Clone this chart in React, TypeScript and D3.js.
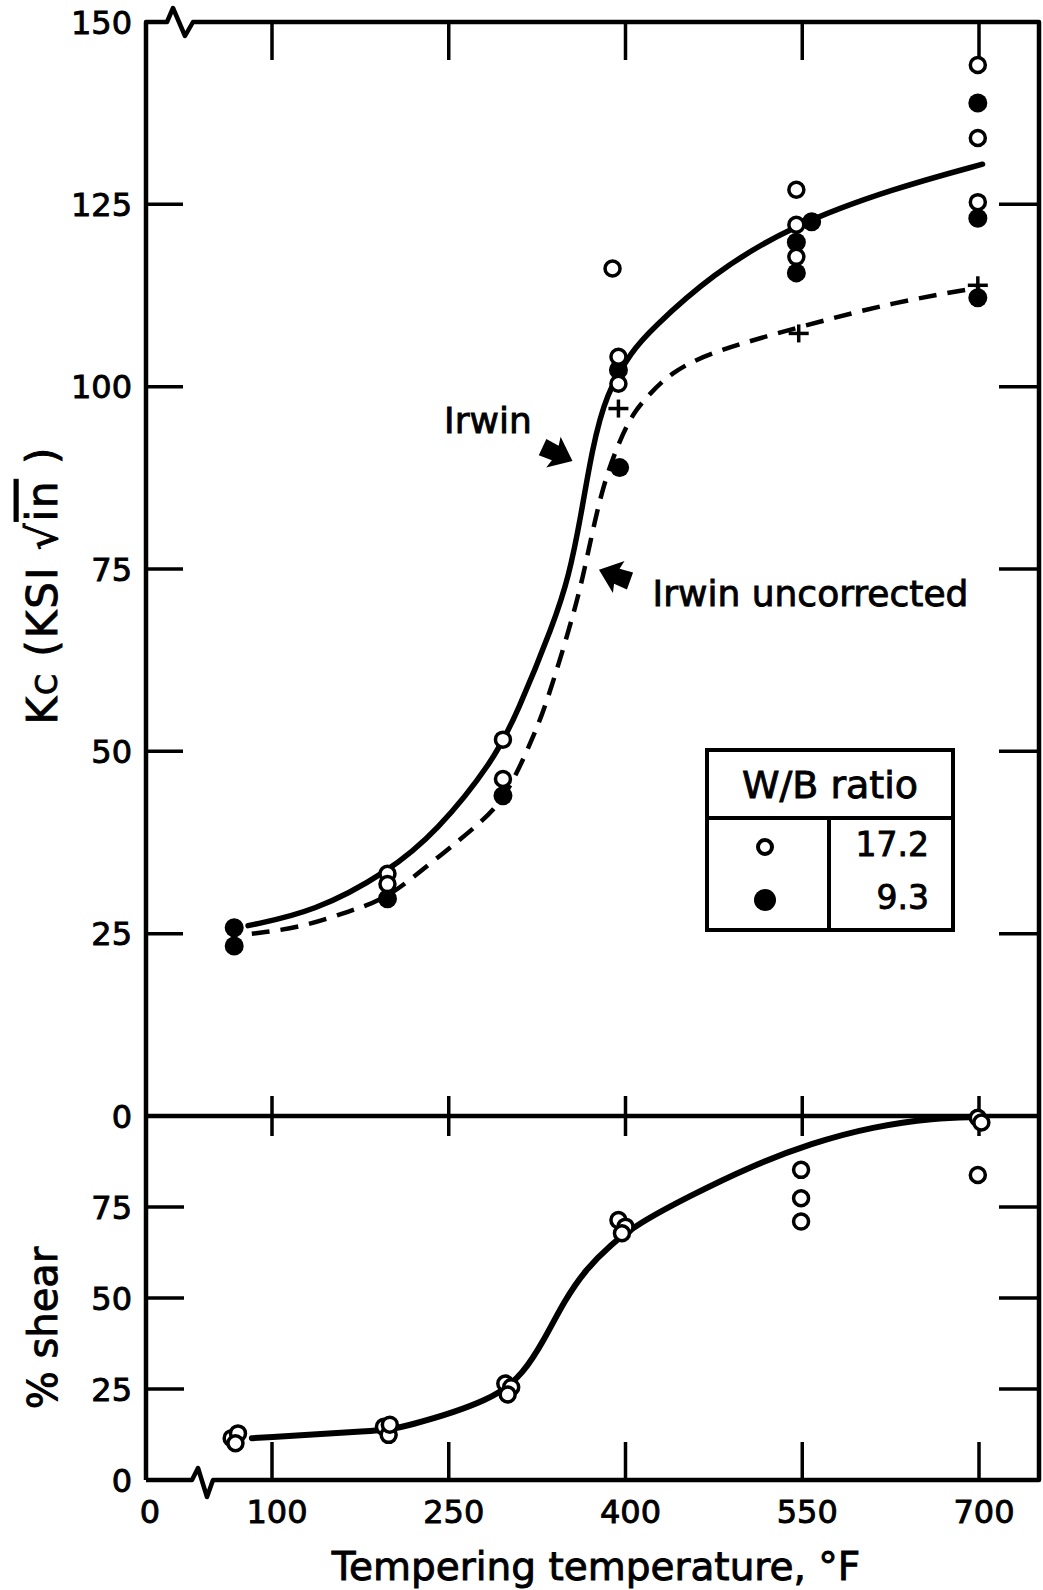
import React from 'react'
import * as d3 from 'd3'

// tick values
const xTicks = [0, 100, 250, 400, 550, 700]
const kcTicks = [0, 25, 50, 75, 100, 125, 150]
const shearTicks = [0, 25, 50, 75]

// Kc points, W/B ratio 17.2 (open circles)
const kcOpen: [number, number][] = [
  [198, 33.2], [198, 31.8], [296, 51.6], [296, 46.2],
  [389, 116.2], [394, 104.1], [394, 100.4],
  [545, 127.0], [545, 122.2], [545, 117.8],
  [699, 144.1], [699, 134.1], [699, 125.3],
]
// Kc points, W/B ratio 9.3 (filled circles)
const kcFilled: [number, number][] = [
  [70, 25.8], [70, 23.3], [198, 29.8], [296, 43.9],
  [394, 102.3], [395, 88.9],
  [545, 119.8], [545, 115.6], [558, 122.6],
  [699, 138.9], [699, 123.1], [699, 112.2],
]
// Irwin uncorrected values (+)
const kcPlus: [number, number][] = [[394, 97.0], [547, 107.3], [699, 113.9]]

// fitted curves
const irwinCurve: [number, number][] = [
  [81, 26.1], [136, 28], [198, 33.4], [240, 39], [288, 48.7], [308, 55.2],
  [339, 67.5], [352, 74], [362, 82.1], [371.5, 91.3], [383.5, 99.1],
  [406, 105], [421, 107.7], [473, 115.4], [541, 122.1], [628, 127.2], [703, 130.5],
]
const uncorrectedCurve: [number, number][] = [
  [84, 25], [124, 25.8], [166, 28.1], [198, 29.8], [237, 35], [280, 40.5],
  [300, 44.2], [321, 51.7], [333, 56.5], [359, 70.3], [368.5, 77.5], [381, 86.7],
  [396, 93], [407, 96.5], [421, 99.1], [438, 101.8], [469, 104.6], [550, 108.3],
  [628, 111.6], [701, 113.6],
]

// % shear points (W/B 17.2)
const shearOpen: [number, number][] = [
  [68, 11.5], [73, 12.8], [71, 10.1],
  [195, 14.6], [199, 12.4], [200, 15.2],
  [298, 26.5], [303, 25.5], [300, 23.5],
  [394, 71.4], [400, 69.6], [397, 67.8],
  [549, 85.2], [549, 77.4], [549, 71.0],
  [699, 99.5], [702, 98.2], [699, 83.8],
]
const shearCurve: [number, number][] = [
  [84, 11.5], [190, 13.5], [211, 14.3], [289, 22], [313.6, 29.4], [331, 38.5],
  [348.5, 49.5], [366, 57.7], [387, 64.6], [411.5, 70.6], [453, 77.8],
  [505.6, 86.1], [558, 92.6], [610, 97.1], [662.5, 99.5], [697.5, 99.7],
]

const FONT = 'DejaVu Sans'
const txt = { fontFamily: FONT, stroke: '#000', strokeWidth: 0.9 }

const arrowPath = (x: number, y: number, angle: number) => {
  // fat arrow, tip at (x,y) pointing along angle
  const pts = [
    [0, 0], [-21, -17], [-19, -8], [-33, -9], [-33, 9], [-19, 8], [-21, 17],
  ]
  const a = (angle * Math.PI) / 180
  const c = Math.cos(a), s = Math.sin(a)
  return 'M' + pts.map(([px, py]) => `${x + px * c - py * s},${y + px * s + py * c}`).join('L') + 'Z'
}

export default function App() {
  const W = 1043
  const H = 1590
  const left = 146, right = 1039, top = 22, mid = 1116, bottom = 1480

  const x = d3.scaleLinear().domain([0, 100, 700]).range([left, 272, 979])
  const yK = d3.scaleLinear().domain([0, 150]).range([mid, top])
  const yS = d3.scaleLinear().domain([0, 100]).range([bottom, mid])

  const kLine = d3.line<[number, number]>().x((d) => x(d[0])).y((d) => yK(d[1])).curve(d3.curveBasis)
  const sLine = d3.line<[number, number]>().x((d) => x(d[0])).y((d) => yS(d[1])).curve(d3.curveBasis)

  const ax = { stroke: '#000', strokeWidth: 4.5, fill: 'none', strokeLinejoin: 'round' as const }
  const tk = { stroke: '#000', strokeWidth: 3.5 }

  const plus = (d: [number, number], i: number) => (
    <g key={'p' + i} transform={`translate(${x(d[0])},${yK(d[1])})`}>
      <line x1={-10} x2={10} y1={0} y2={0} {...tk} />
      <line x1={0} x2={0} y1={-9} y2={9} {...tk} />
    </g>
  )

  return (
    <svg width={W} height={H} style={{ position: 'absolute', left: 0, top: 0, background: '#fff' }}>
      <rect width={W} height={H} fill="#fff" />
      {/* frame with axis breaks */}
      <path d={`M${left},${bottom}L${left},${top}L167,${top}L173,8L185,36L193,${top}L${right},${top}L${right},${bottom}L213,${bottom}L207,1497L198,1468L192,${bottom}L${left},${bottom}`} {...ax} />
      <line x1={left} x2={right} y1={mid} y2={mid} {...ax} />

      {/* x ticks */}
      {xTicks.filter((v) => v > 0).map((v) => (
        <g key={'xt' + v}>
          <line x1={x(v)} x2={x(v)} y1={top} y2={top + 38} {...tk} />
          <line x1={x(v)} x2={x(v)} y1={mid - 20} y2={mid + 20} {...tk} />
          <line x1={x(v)} x2={x(v)} y1={bottom} y2={bottom - 38} {...tk} />
        </g>
      ))}
      {xTicks.map((v) => (
        <text key={'xl' + v} x={x(v) + (v === 0 ? 4 : 5)} y={1523} textAnchor="middle" fontSize={32} {...txt}>
          {v}
        </text>
      ))}

      {/* Kc ticks */}
      {kcTicks.filter((v) => v > 0 && v < 150).map((v) => (
        <g key={'kt' + v}>
          <line x1={left} x2={left + 37} y1={yK(v)} y2={yK(v)} {...tk} />
          <line x1={right} x2={right - 40} y1={yK(v)} y2={yK(v)} {...tk} />
        </g>
      ))}
      {kcTicks.map((v) => (
        <text key={'kl' + v} x={132} y={yK(v)} dy="0.36em" textAnchor="end" fontSize={32} {...txt}>
          {v}
        </text>
      ))}

      {/* shear ticks */}
      {shearTicks.filter((v) => v > 0).map((v) => (
        <g key={'st' + v}>
          <line x1={left} x2={left + 38} y1={yS(v)} y2={yS(v)} {...tk} />
          <line x1={right} x2={right - 40} y1={yS(v)} y2={yS(v)} {...tk} />
        </g>
      ))}
      {shearTicks.map((v) => (
        <text key={'sl' + v} x={132} y={yS(v)} dy="0.36em" textAnchor="end" fontSize={32} {...txt}>
          {v}
        </text>
      ))}

      {/* curves */}
      <path d={kLine(irwinCurve) || ''} fill="none" stroke="#000" strokeWidth={5.5} strokeLinecap="round" />
      <path d={kLine(uncorrectedCurve) || ''} fill="none" stroke="#000" strokeWidth={4.5} strokeDasharray="18 11" />
      <path d={sLine(shearCurve) || ''} fill="none" stroke="#000" strokeWidth={6} strokeLinecap="round" />

      {/* points */}
      {kcPlus.map(plus)}
      {kcFilled.map((d, i) => (
        <circle key={'kf' + i} cx={x(d[0])} cy={yK(d[1])} r={9.5} fill="#000" />
      ))}
      {kcOpen.map((d, i) => (
        <circle key={'ko' + i} cx={x(d[0])} cy={yK(d[1])} r={7.5} fill="#fff" stroke="#000" strokeWidth={3.5} />
      ))}
      {shearOpen.map((d, i) => (
        <circle key={'so' + i} cx={x(d[0])} cy={yS(d[1])} r={7.5} fill="#fff" stroke="#000" strokeWidth={3.5} />
      ))}

      {/* annotations */}
      <text x={x(246)} y={yK(93.6)} fontSize={36} {...txt}>Irwin</text>
      <path d={arrowPath(x(355), yK(89.8), 25)} fill="#000" />
      <text x={x(423)} y={yK(69.9)} fontSize={36} {...txt}>Irwin uncorrected</text>
      <path d={arrowPath(x(377.5), yK(74.9), 200)} fill="#000" />

      {/* legend */}
      <g>
        <rect x={707} y={750} width={246} height={180} fill="#fff" stroke="#000" strokeWidth={4} />
        <line x1={707} x2={953} y1={818} y2={818} stroke="#000" strokeWidth={4} />
        <line x1={829} x2={829} y1={818} y2={930} stroke="#000" strokeWidth={4} />
        <text x={830} y={798} textAnchor="middle" fontSize={38} {...txt}>W/B ratio</text>
        <circle cx={765} cy={847} r={7} fill="#fff" stroke="#000" strokeWidth={4} />
        <circle cx={765} cy={900} r={11} fill="#000" />
        <text x={929} y={856} textAnchor="end" fontSize={33} {...txt}>17.2</text>
        <text x={929} y={909} textAnchor="end" fontSize={33} {...txt}>9.3</text>
      </g>

      {/* axis titles */}
      <text x={596} y={1580} textAnchor="middle" fontSize={39} {...txt}>
        Tempering temperature, °F
      </text>
      <text transform="translate(57,585) rotate(-90)" textAnchor="middle" fontSize={42} letterSpacing={2} {...txt}>
        K<tspan fontSize={30}>C</tspan> (KSI √<tspan style={{ textDecoration: 'overline' }}>in</tspan> )
      </text>
      <text transform="translate(57,1328) rotate(-90)" textAnchor="middle" fontSize={40} {...txt}>
        % shear
      </text>
    </svg>
  )
}
